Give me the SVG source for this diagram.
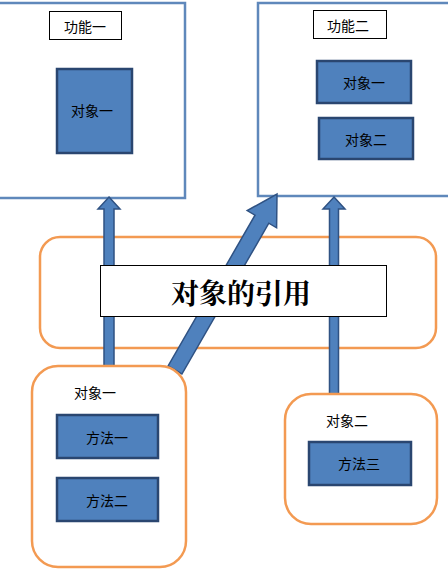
<svg xmlns="http://www.w3.org/2000/svg" width="448" height="569" viewBox="0 0 448 569">
<style>
.frame{fill:#fff;stroke:#5f88bb;stroke-width:2.5}
.lbl{fill:#fff;stroke:#000;stroke-width:1}
.obj{fill:#4f81bd;stroke:#2a4670;stroke-width:2.5}
.org{fill:#fff;stroke:#f39a52;stroke-width:2.5}
.arr{fill:#4f81bd;stroke:#2f5283;stroke-width:1.5}
text{font-family:"Noto Sans CJK SC","Noto Sans",sans-serif;font-size:14px;fill:#000;text-anchor:middle;dominant-baseline:central}
.title{font-family:"Noto Serif CJK SC","Noto Sans CJK SC",serif;font-size:28px;font-weight:bold}
</style>
<rect width="448" height="569" fill="#fff"/>
<g id="func1">
<rect class="frame" x="-5" y="3" width="190" height="195"/>
<rect class="lbl" x="49.5" y="11.5" width="72" height="28"/>
<text x="85" y="26">功能一</text>
<rect class="obj" x="57" y="69" width="75" height="84"/>
<text x="92" y="110">对象一</text>
</g>
<g id="func2">
<rect class="frame" x="258" y="3" width="200" height="193"/>
<rect class="lbl" x="313.5" y="10.5" width="73" height="28"/>
<text x="348" y="25">功能二</text>
<rect class="obj" x="317" y="61" width="94" height="42"/>
<text x="364" y="82">对象一</text>
<rect class="obj" x="319" y="118" width="94" height="41"/>
<text x="366" y="139">对象二</text>
</g>
<g id="ref-band">
<rect class="org" x="40" y="237" width="396" height="111" rx="20"/>
</g>
<g id="connectors">
<polygon class="arr" points="109,197 120,209 114,209 114,370 104,370 104,209 98,209"/>
<polygon class="arr" points="334,197 345,209 338.5,209 338.5,396 329.5,396 329.5,209 323,209"/>
<polygon class="arr" points="277,194 276.6,227.8 268.8,223.2 181.9,374 168.1,366 255,215.2 247.2,210.6"/>
</g>
<g id="title">
<rect class="lbl" x="100.5" y="265.5" width="286" height="51"/>
<text class="title" x="241" y="292">对象的引用</text>
</g>
<g id="obj1">
<rect class="org" x="32" y="366" width="154" height="201" rx="26"/>
<text x="95" y="392">对象一</text>
<rect class="obj" x="57" y="415" width="101" height="43"/>
<text x="107" y="437">方法一</text>
<rect class="obj" x="57" y="478" width="101" height="43"/>
<text x="107" y="500">方法二</text>
</g>
<g id="obj2">
<rect class="org" x="285" y="394" width="152" height="130" rx="26"/>
<text x="347" y="420">对象二</text>
<rect class="obj" x="309" y="442" width="102" height="43"/>
<text x="359" y="463">方法三</text>
</g>
</svg>
